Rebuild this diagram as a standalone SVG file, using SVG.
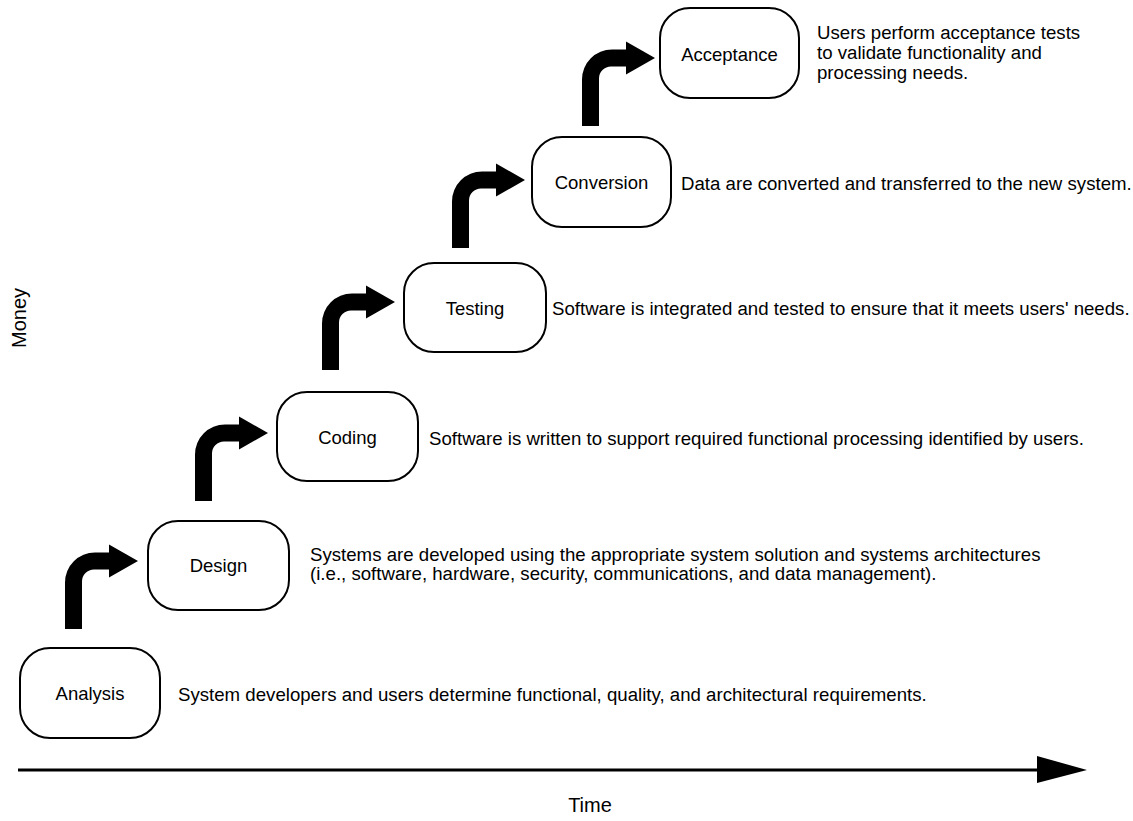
<svg xmlns="http://www.w3.org/2000/svg" width="1133" height="821" viewBox="0 0 1133 821">
<style>
.box{fill:#fff;stroke:#000;stroke-width:2}
.lbl{font-family:"Liberation Sans",Arial,sans-serif;font-size:18.5px;fill:#000;text-anchor:middle}
.desc{font-family:"Liberation Sans",Arial,sans-serif;font-size:18.65px;fill:#000}
.axis{font-family:"Liberation Sans",Arial,sans-serif;font-size:20px;fill:#000;text-anchor:middle}
</style>
<defs>
<path id="bend" d="M-73,68 V21.5 A30,30 0 0 1 -43,-8.5 H-29 V-16.5 L0,0 L-29,16.5 V8.5 H-44 A12,12 0 0 0 -56,20.5 V68 Z" fill="#000"/>
</defs>
<g id="connectors">
<use href="#bend" transform="translate(138,561)"/>
<use href="#bend" transform="translate(268,433)"/>
<use href="#bend" transform="translate(395,302)"/>
<use href="#bend" transform="translate(525,180)"/>
<use href="#bend" transform="translate(655,58)"/>
<line x1="18" y1="770" x2="1040" y2="770" stroke="#000" stroke-width="3"/>
<polygon points="1037,756 1087,770 1037,783" fill="#000"/>
</g>
<g id="analysis">
<rect class="box" x="20" y="648" width="140" height="90" rx="30"/>
<text class="lbl" x="90" y="700">Analysis</text>
<text class="desc" x="178" y="701">System developers and users determine functional, quality, and architectural requirements.</text>
</g>
<g id="design">
<rect class="box" x="148" y="521" width="141" height="89" rx="30"/>
<text class="lbl" x="218.5" y="572">Design</text>
<text class="desc" x="310" y="561">Systems are developed using the appropriate system solution and systems architectures</text>
<text class="desc" x="310" y="580">(i.e., software, hardware, security, communications, and data management).</text>
</g>
<g id="coding">
<rect class="box" x="277" y="392" width="141" height="89" rx="30"/>
<text class="lbl" x="347.5" y="444">Coding</text>
<text class="desc" x="429" y="445">Software is written to support required functional processing identified by users.</text>
</g>
<g id="testing">
<rect class="box" x="404" y="263" width="142" height="89" rx="30"/>
<text class="lbl" x="475" y="315">Testing</text>
<text class="desc" x="552" y="315">Software is integrated and tested to ensure that it meets users' needs.</text>
</g>
<g id="conversion">
<rect class="box" x="532" y="137" width="139" height="90" rx="30"/>
<text class="lbl" x="601.5" y="189">Conversion</text>
<text class="desc" x="681" y="190">Data are converted and transferred to the new system.</text>
</g>
<g id="acceptance">
<rect class="box" x="660" y="8" width="139" height="90" rx="30"/>
<text class="lbl" x="729.5" y="61">Acceptance</text>
<text class="desc" x="817" y="38.5">Users perform acceptance tests</text>
<text class="desc" x="817" y="58.5">to validate functionality and</text>
<text class="desc" x="817" y="78.5">processing needs.</text>
</g>
<text class="axis" x="590" y="812">Time</text>
<text class="axis" transform="translate(26,318) rotate(-90)">Money</text>
</svg>
